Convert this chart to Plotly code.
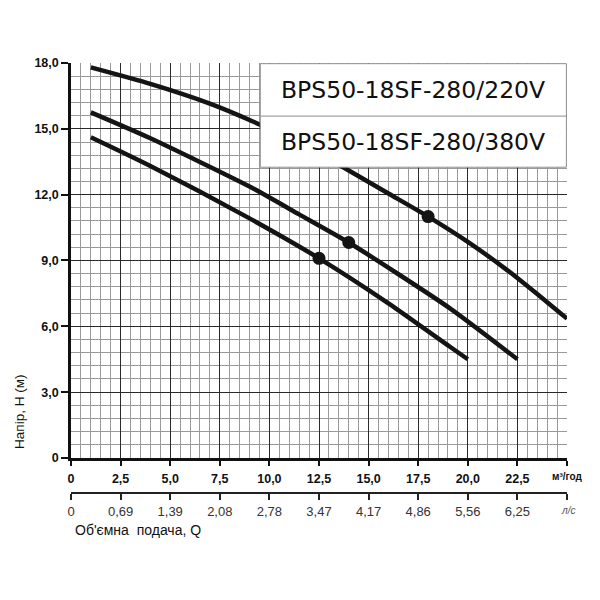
import plotly.graph_objects as go

# ---- data ----
curve_top_x = [1, 4, 7, 9.5, 12, 14, 16, 18, 20, 22, 24, 25]
curve_top_y = [17.8, 17.05, 16.15, 15.2, 14.1, 13.1, 12.05, 11.0, 9.85, 8.55, 7.1, 6.35]
curve_mid_x = [1, 4, 9, 11.5, 14, 19.1, 22.5]
curve_mid_y = [15.75, 14.57, 12.37, 11.1, 9.82, 6.82, 4.5]
curve_bot_x = [1, 4, 9, 12.5, 16, 19.1, 20]
curve_bot_y = [14.62, 13.31, 10.92, 9.1, 7.05, 5.07, 4.5]

point_x = [18, 14, 12.5]
point_y = [11.0, 9.82, 9.1]

x_tickvals = [0, 2.5, 5, 7.5, 10, 12.5, 15, 17.5, 20, 22.5, 25]
x_ticktext = ["0", "2,5", "5,0", "7,5", "10,0", "12,5", "15,0", "17,5", "20,0", "22,5", ""]
ls_ticktext = ["0", "0,69", "1,39", "2,08", "2,78", "3,47", "4,17", "4,86", "5,56", "6,25", ""]
y_tickvals = [0, 3, 6, 9, 12, 15, 18]
y_ticktext = ["0", "3,0", "6,0", "9,0", "12,0", "15,0", "18,0"]

legend_labels = ["BPS50-18SF-280/220V", "BPS50-18SF-280/380V"]

LINE = "#141414"
MAJ = "#2a2a2a"
MIN = "#9a9a9a"
AXF = "Liberation Sans"

fig = go.Figure()
for xs, ys in [(curve_top_x, curve_top_y), (curve_mid_x, curve_mid_y), (curve_bot_x, curve_bot_y)]:
    fig.add_trace(go.Scatter(x=xs, y=ys, mode="lines",
                             line=dict(color=LINE, width=4.5, shape="spline", smoothing=0.6),
                             showlegend=False, hoverinfo="skip"))
fig.add_trace(go.Scatter(x=point_x, y=point_y, mode="markers",
                         marker=dict(color=LINE, size=13), showlegend=False))

# invisible trace to activate secondary axis
fig.add_trace(go.Scatter(x=[0], y=[0], xaxis="x2", yaxis="y2", mode="markers",
                         marker=dict(opacity=0), showlegend=False, hoverinfo="skip"))

fig.update_layout(
    width=600, height=600,
    margin=dict(l=71, r=33, t=63, b=108),
    paper_bgcolor="white", plot_bgcolor="white",
    xaxis=dict(range=[0, 25], domain=[0, 1], anchor="y",
               tickvals=x_tickvals, ticktext=x_ticktext,
               tickfont=dict(family=AXF, size=12.5, color="#111", weight="bold"),
               ticks="outside", ticklen=5, tickwidth=2, tickcolor="#111",
               showline=True, linecolor="#111", linewidth=2.5,
               showgrid=True, gridcolor=MAJ, gridwidth=1.3,
               minor=dict(dtick=0.5, showgrid=True, gridcolor=MIN, gridwidth=1),
               zeroline=False, ticklabelstandoff=2),
    yaxis=dict(range=[0, 18], domain=[0.0793, 1], anchor="x",
               tickvals=y_tickvals, ticktext=y_ticktext,
               tickfont=dict(family=AXF, size=12.5, color="#111", weight="bold"),
               ticks="outside", ticklen=7, tickwidth=2, tickcolor="#111",
               showline=True, linecolor="#111", linewidth=2.5,
               showgrid=True, gridcolor=MAJ, gridwidth=1.3,
               minor=dict(dtick=0.6, showgrid=True, gridcolor=MIN, gridwidth=1),
               zeroline=False),
    xaxis2=dict(range=[0, 25], domain=[0, 1], anchor="y2",
                tickvals=x_tickvals, ticktext=ls_ticktext,
                tickfont=dict(family=AXF, size=13, color="#333"),
                ticks="outside", ticklen=6, tickwidth=2, tickcolor="#222",
                showline=True, linecolor="#222", linewidth=2,
                showgrid=False, zeroline=False),
    yaxis2=dict(domain=[0, 0.005], anchor="x2", visible=False, range=[0, 1]),
    shapes=[
        dict(type="rect", xref="x", yref="y", x0=9.54, x1=24.97, y0=13.25, y1=17.97,
             fillcolor="white", line=dict(color="#8c8c8c", width=1), layer="above"),
        dict(type="line", xref="x", yref="y", x0=9.54, x1=24.97, y0=15.58, y1=15.58,
             line=dict(color="#8c8c8c", width=1), layer="above"),
    ],
    annotations=[
        dict(text=legend_labels[0], xref="x", yref="y", x=17.25, y=16.78, showarrow=False,
             xanchor="center", yanchor="middle",
             font=dict(family="DejaVu Sans", size=23.5, color="#111")),
        dict(text=legend_labels[1], xref="x", yref="y", x=17.25, y=14.42, showarrow=False,
             xanchor="center", yanchor="middle",
             font=dict(family="DejaVu Sans", size=23.5, color="#111")),
        dict(text="м³/год", xref="paper", yref="paper", x=1.0, y=0.037, showarrow=False,
             xanchor="center", yanchor="middle",
             font=dict(family=AXF, size=10, color="#111", weight="bold")),
        dict(text="л/с", xref="paper", yref="paper", x=1.002, y=-0.042, showarrow=False,
             xanchor="center", yanchor="middle",
             font=dict(family=AXF, size=10, color="#555", style="italic")),
        dict(text="Об'ємна\u00a0\u00a0подача, Q", xref="paper", yref="paper", x=0.004, y=-0.0886,
             xanchor="left", yanchor="middle", showarrow=False,
             font=dict(family=AXF, size=14, color="#111")),
        dict(text="Напір, Н (м)", xref="paper", yref="paper", x=-0.103, y=0.1865,
             xanchor="center", yanchor="middle",
             textangle=-90, showarrow=False,
             font=dict(family=AXF, size=13.5, color="#111")),
    ],
)

fig.write_html("out.html")
